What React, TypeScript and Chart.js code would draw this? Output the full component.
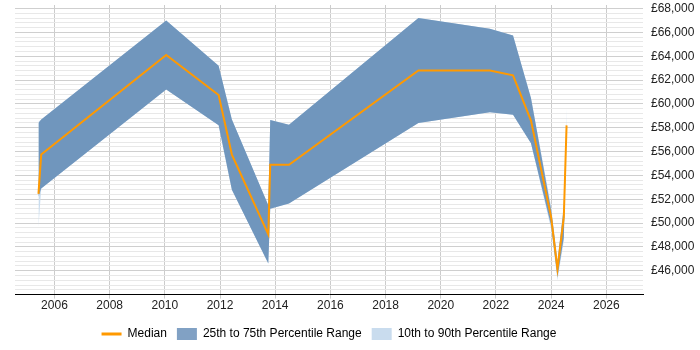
import React, { useEffect, useRef } from "react";
import { Chart, registerables } from "chart.js";

Chart.register(...registerables);

const years = [2005.42, 2005.52, 2010.05, 2011.95, 2012.43, 2013.75, 2013.82, 2014.5, 2019.19, 2021.78, 2022.62, 2023.27, 2024.0, 2024.23, 2024.46, 2024.56];
const median = [52450, 55750, 64100, 60750, 55750, 49050, 54900, 54900, 62800, 62800, 62400, 58600, 50500, 46150, 50500, 58200];
const p75 = [58400, 58700, 67000, 63200, 58700, 51500, 58650, 58250, 67200, 66300, 65750, 60500, 51100, 46700, 51300, 58400];
const p25 = [52200, 52900, 61200, 58200, 52800, 46600, 51200, 51650, 58400, 59300, 59100, 56700, 49800, 45500, 48800, 57900];
const p90 = [58500, 58700, 67000, 63200, 58700, 51500, 58650, 58250, 67200, 66300, 65750, 60500, 51400, 46900, 51500, 59700];
const p10 = [49650, 52900, 61200, 58200, 52800, 46600, 51200, 51650, 58400, 59300, 59100, 56700, 49500, 45200, 48500, 57600];

const xTicks = [2006, 2008, 2010, 2012, 2014, 2016, 2018, 2020, 2022, 2024, 2026];
const legendLabels = ["Median", "25th to 75th Percentile Range", "10th to 90th Percentile Range"];

const ORANGE = "#ff9900";
const DARK = "#7096bd";
const DARK_SWATCH = "#81a1c4";
const LIGHT = "#c9dcee";
const FONT = "'Liberation Sans', Arial, sans-serif";

const pts = (vals: number[]) => years.map((x, i) => ({ x, y: vals[i] }));

export default function App() {
  const ref = useRef<HTMLCanvasElement | null>(null);
  useEffect(() => {
    document.body.style.margin = "0";
    const ctx = ref.current!;
    const base = { pointRadius: 0, pointHoverRadius: 0, tension: 0, borderWidth: 0 };
    const chart = new Chart(ctx, {
      type: "line",
      data: {
        datasets: [
          { ...base, label: legendLabels[0], data: pts(median), borderColor: ORANGE, borderWidth: 2, fill: false },
          { ...base, label: "p25", data: pts(p25), borderColor: "rgba(0,0,0,0)", fill: false },
          { ...base, label: "p75", data: pts(p75), borderColor: "rgba(0,0,0,0)", backgroundColor: DARK, fill: "-1" },
          { ...base, label: "p10", data: pts(p10), borderColor: "rgba(0,0,0,0)", fill: false },
          { ...base, label: "p90", data: pts(p90), borderColor: "rgba(0,0,0,0)", backgroundColor: LIGHT, fill: "-1" },
        ],
      },
      options: {
        animation: false,
        responsive: true,
        maintainAspectRatio: false,
        layout: { padding: { left: 15, top: 5, right: 0, bottom: 0 } },
        plugins: {
          tooltip: { enabled: false },
          legend: {
            position: "bottom",
            fullSize: false,
            onClick: () => {},
            labels: {
              usePointStyle: true,
              pointStyleWidth: 20,
              boxHeight: 12,
              padding: 10,
              color: "#222",
              font: { family: FONT, size: 12 },
              generateLabels: () => [
                { text: legendLabels[0], pointStyle: "line", strokeStyle: ORANGE, fillStyle: ORANGE, lineWidth: 3, hidden: false, datasetIndex: 0 },
                { text: legendLabels[1], pointStyle: "rect", strokeStyle: DARK_SWATCH, fillStyle: DARK_SWATCH, lineWidth: 0, hidden: false, datasetIndex: 2 },
                { text: legendLabels[2], pointStyle: "rect", strokeStyle: LIGHT, fillStyle: LIGHT, lineWidth: 0, hidden: false, datasetIndex: 4 },
              ] as any,
            },
          },
        },
        scales: {
          x: {
            type: "linear",
            min: 2004.57,
            max: 2027.33,
            afterBuildTicks: (scale: any) => {
              scale.ticks = xTicks.map((v) => ({ value: v }));
            },
            afterFit: (scale: any) => {
              scale.height += 5;
            },
            ticks: {
              autoSkip: false,
              maxRotation: 0,
              padding: 0,
              color: "#222",
              font: { family: FONT, size: 12 },
              callback: (v: any) => String(v),
            },
            grid: { color: "#cccccc", tickLength: 4, drawTicks: true },
            border: { display: true, color: "#000000", width: 1 },
          },
          y: {
            type: "linear",
            position: "right",
            min: 44000,
            max: 68300,
            afterBuildTicks: (scale: any) => {
              const t = [];
              for (let v = 44000; v <= 68000; v += 400) t.push({ value: v });
              scale.ticks = t;
            },
            afterFit: (scale: any) => {
              scale.width = 57;
              scale.paddingTop = 0;
              scale.paddingBottom = 0;
            },
            ticks: {
              autoSkip: false,
              padding: 8,
              color: "#222",
              font: { family: FONT, size: 12 },
              callback: (v: any) =>
                v % 2000 === 0 && v >= 46000 ? "£" + Number(v).toLocaleString("en-GB") : "",
            },
            grid: {
              drawTicks: false,
              color: (c: any) => (c.tick && c.tick.value % 2000 === 0 ? "#cfcfcf" : "#e8e8e8"),
            },
            border: { display: false },
          },
        },
      },
    });
    return () => chart.destroy();
  }, []);
  return (
    <div style={{ position: "absolute", left: 0, top: 0, width: 700, height: 350 }}>
      <canvas ref={ref} />
    </div>
  );
}
